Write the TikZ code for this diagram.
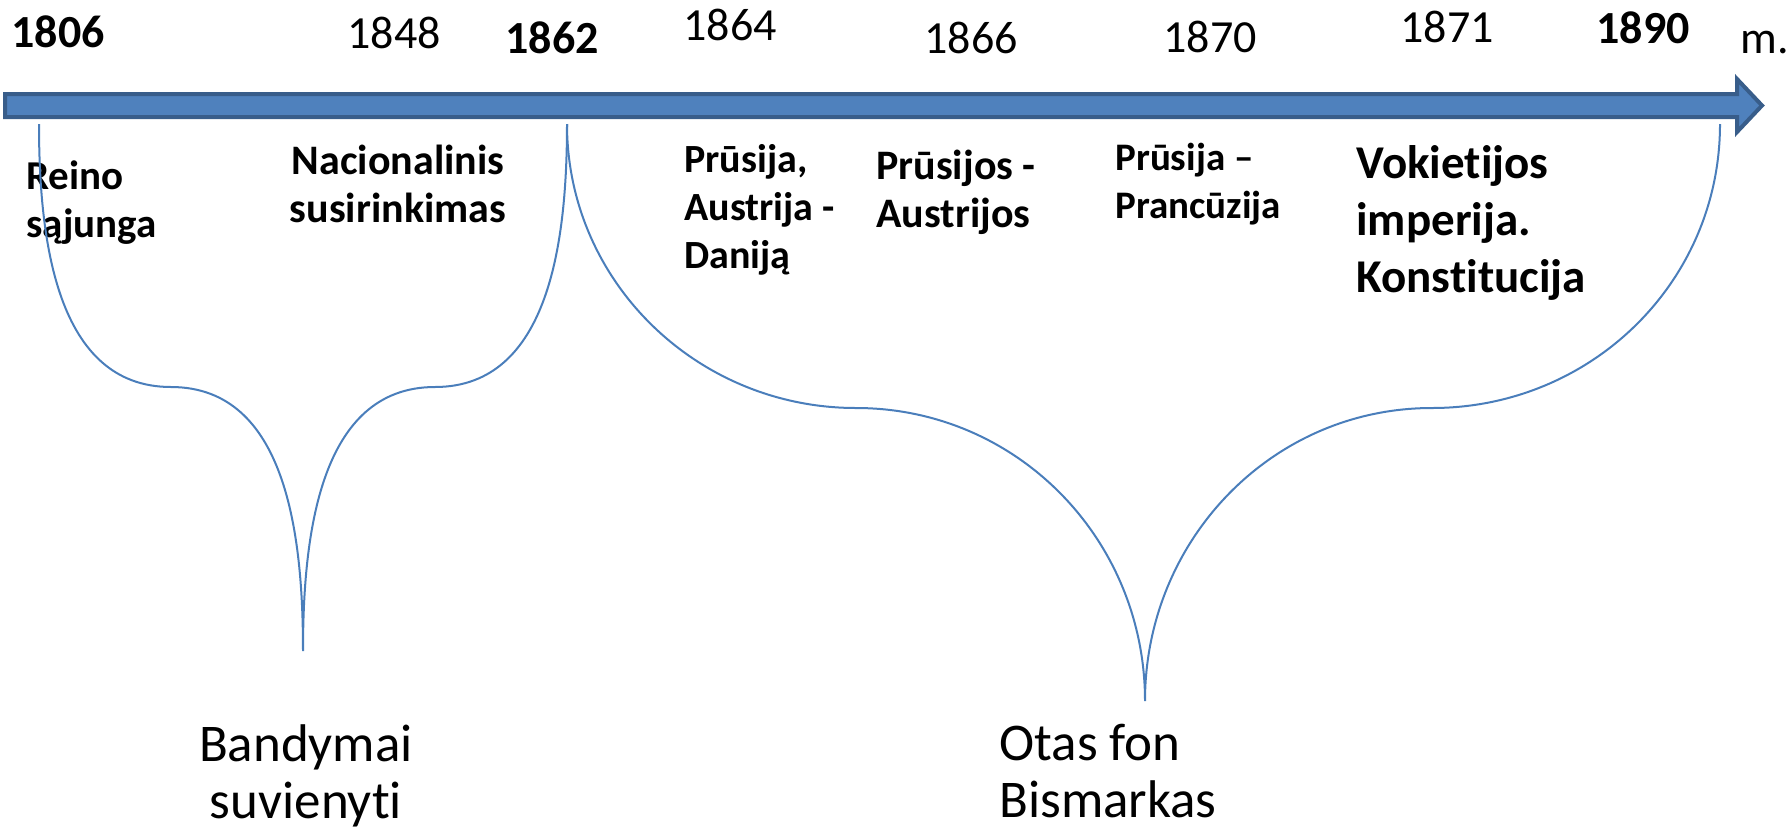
\documentclass[tikz,border=0pt]{standalone}
\usepackage{fontspec}
\setmainfont{Carlito}[Ligatures=NoCommon]

\definecolor{axisfill}{HTML}{4F81BD}
\definecolor{axisdraw}{HTML}{385D8A}
\definecolor{braceline}{HTML}{4A7EBB}

\begin{document}
\begin{tikzpicture}[x=0.5pt, y=-0.5pt,
						every node/.style={inner sep=0pt},
						year/.style={font=\fontsize{23}{27}\selectfont},
						boldyear/.style={font=\bfseries\fontsize{23}{27}\selectfont},
						event/.style={font=\bfseries\fontsize{21}{24}\selectfont, align=left, anchor=north west},
						topic/.style={font=\fontsize{26.5}{28.5}\selectfont, align=left, anchor=north west},
						brace/.style={draw=braceline, line width=1pt},
						axis/.style={fill=axisfill, draw=axisdraw, line width=2pt, line join=miter}]
					\useasboundingbox (0,0) rectangle (1788,831);

					% time axis
					\draw[axis] (5,94) -- (1737,94) -- (1737,79) -- (1762,105.5) -- (1737,132) -- (1737,117) -- (5,117) -- cycle;

					\node[boldyear] (y1806) at (58,32) {1806};
					\node[year] (y1848) at (394,33) {1848};
					\node[boldyear] (y1862) at (552,38) {1862};
					\node[year] (y1864) at (730,25) {1864};
					\node[year] (y1866) at (971,38) {1866};
					\node[year] (y1870) at (1210,37) {1870};
					\node[year] (y1871) at (1447,27) {1871};
					\node[boldyear] (y1890) at (1643,28) {1890};
					\node[year, anchor=base west] (m) at (1740,53) {m.};

					% events
					\node[event, font=\bfseries\fontsize{20.5}{24}\selectfont] (reino) at (26,160) {Reino\\sąjunga};
					\node[event, align=center, anchor=north] (nacional) at (398,145) {Nacionalinis\\susirinkimas};
					\node[event, font=\bfseries\fontsize{20}{24}\selectfont] (danija) at (684,144) {Prūsija,\\Austrija -\\Daniją};
					\node[event] (austrijos) at (876,150) {Prūsijos -\\Austrijos};
					\node[event, font=\bfseries\fontsize{19.5}{24}\selectfont] (prancuzija) at (1115,143) {Prūsija –\\Prancūzija};
					\node[event, font=\bfseries\fontsize{23.5}{28.5}\selectfont] (imperija) at (1356,145) {Vokietijos\\imperija.\\Konstitucija};

					% braces
					\coordinate (b1l) at (39,124);
					\coordinate (b1r) at (567,124);
					\coordinate (b2r) at (1720,124);
					\coordinate (j1l) at (171,387);
					\coordinate (j1r) at (435,387);
					\coordinate (t1) at (303,651);
					\coordinate (j2l) at (856,408);
					\coordinate (j2r) at (1432,408);
					\coordinate (t2) at (1145,701);

					\draw[brace] (b1l) to[out=-90, in=180] (j1l) to[out=0, in=90] (t1)
						to[out=90, in=180] (j1r) to[out=0, in=-90] (b1r);
					\draw[brace] (b1r) to[out=-90, in=180] (j2l) to[out=0, in=90] (t2)
						to[out=90, in=180] (j2r) to[out=0, in=-90] (b2r);

					\node[topic, align=center, anchor=north] (bandymai) at (306,724) {Bandymai\\suvienyti};
					\node[topic] (bismarkas) at (999,724) {Otas fon\\Bismarkas};
				\end{tikzpicture}
\end{document}
